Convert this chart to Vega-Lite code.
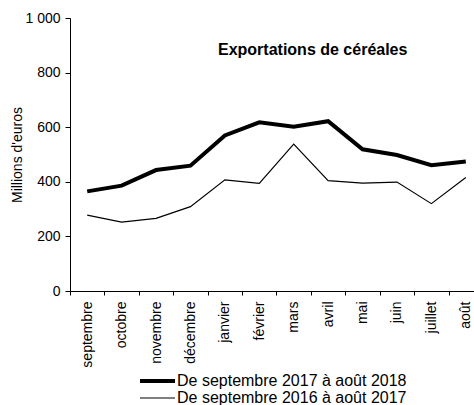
{
  "$schema": "https://vega.github.io/schema/vega-lite/v6.json",
  "width": 413,
  "height": 273,
  "autosize": "none",
  "padding": {"left": 70, "top": 18, "right": 0, "bottom": 114},
  "config": {
    "font": "Liberation Sans",
    "view": {"stroke": null},
    "axis": {"labelColor": "#000", "domainColor": "#000", "tickColor": "#000", "titleColor": "#000", "grid": false, "labelFont": "Liberation Sans", "titleFont": "Liberation Sans"},
    "legend": {"labelFont": "Liberation Sans", "labelColor": "#000"}
  },
  "data": {"values": [
    {"mois": "septembre", "serie": "De septembre 2017 à août 2018", "valeur": 365},
    {"mois": "octobre", "serie": "De septembre 2017 à août 2018", "valeur": 386},
    {"mois": "novembre", "serie": "De septembre 2017 à août 2018", "valeur": 443},
    {"mois": "décembre", "serie": "De septembre 2017 à août 2018", "valeur": 459},
    {"mois": "janvier", "serie": "De septembre 2017 à août 2018", "valeur": 570},
    {"mois": "février", "serie": "De septembre 2017 à août 2018", "valeur": 618},
    {"mois": "mars", "serie": "De septembre 2017 à août 2018", "valeur": 602},
    {"mois": "avril", "serie": "De septembre 2017 à août 2018", "valeur": 622},
    {"mois": "mai", "serie": "De septembre 2017 à août 2018", "valeur": 519},
    {"mois": "juin", "serie": "De septembre 2017 à août 2018", "valeur": 498},
    {"mois": "juillet", "serie": "De septembre 2017 à août 2018", "valeur": 461},
    {"mois": "août", "serie": "De septembre 2017 à août 2018", "valeur": 474},
    {"mois": "septembre", "serie": "De septembre 2016 à août 2017", "valeur": 278},
    {"mois": "octobre", "serie": "De septembre 2016 à août 2017", "valeur": 252},
    {"mois": "novembre", "serie": "De septembre 2016 à août 2017", "valeur": 266},
    {"mois": "décembre", "serie": "De septembre 2016 à août 2017", "valeur": 309},
    {"mois": "janvier", "serie": "De septembre 2016 à août 2017", "valeur": 407},
    {"mois": "février", "serie": "De septembre 2016 à août 2017", "valeur": 394},
    {"mois": "mars", "serie": "De septembre 2016 à août 2017", "valeur": 538},
    {"mois": "avril", "serie": "De septembre 2016 à août 2017", "valeur": 404},
    {"mois": "mai", "serie": "De septembre 2016 à août 2017", "valeur": 395},
    {"mois": "juin", "serie": "De septembre 2016 à août 2017", "valeur": 399},
    {"mois": "juillet", "serie": "De septembre 2016 à août 2017", "valeur": 320},
    {"mois": "août", "serie": "De septembre 2016 à août 2017", "valeur": 416}
  ]},
  "layer": [
    {
      "mark": {"type": "line", "color": "#000", "strokeJoin": "miter"},
      "encoding": {
        "x": {
          "field": "mois", "type": "nominal", "sort": null, "title": null,
          "scale": {"type": "band", "paddingInner": 0, "paddingOuter": 0},
          "axis": {"labelAngle": 270, "labelFontSize": 14, "labelPadding": 6, "tickBand": "extent", "tickSize": 4, "domainWidth": 1, "labelBaseline": "middle", "labelAlign": "right"}
        },
        "y": {
          "field": "valeur", "type": "quantitative",
          "scale": {"domain": [0, 1000], "nice": false},
          "axis": {"values": [0, 200, 400, 600, 800, 1000], "labelExpr": "replace(datum.label, ',', ' ')", "labelFontSize": 14, "tickSize": 5, "labelPadding": 5, "title": "Millions d'euros", "titleFontSize": 14, "titleFontWeight": "normal", "titlePadding": 0}
        },
        "strokeWidth": {
          "field": "serie", "type": "nominal",
          "scale": {"domain": ["De septembre 2017 à août 2018", "De septembre 2016 à août 2017"], "range": [4, 1.2]},
          "legend": {"title": null, "orient": "none", "legendX": 68, "legendY": 356, "symbolType": "stroke", "symbolSize": 1225, "symbolStrokeColor": "#000", "labelFontSize": 16, "labelLimit": 400, "clipHeight": 14, "rowPadding": 1, "labelOffset": 0, "symbolOffset": 0}
        }
      }
    },
    {
      "data": {"values": [{"mois": "mars", "valeur": 883, "texte": "Exportations de céréales"}]},
      "mark": {"type": "text", "fontWeight": "bold", "fontSize": 16, "dx": 19, "color": "#000", "baseline": "middle"},
      "encoding": {
        "x": {"field": "mois", "type": "nominal", "sort": null},
        "y": {"field": "valeur", "type": "quantitative"},
        "text": {"field": "texte"}
      }
    }
  ]
}
